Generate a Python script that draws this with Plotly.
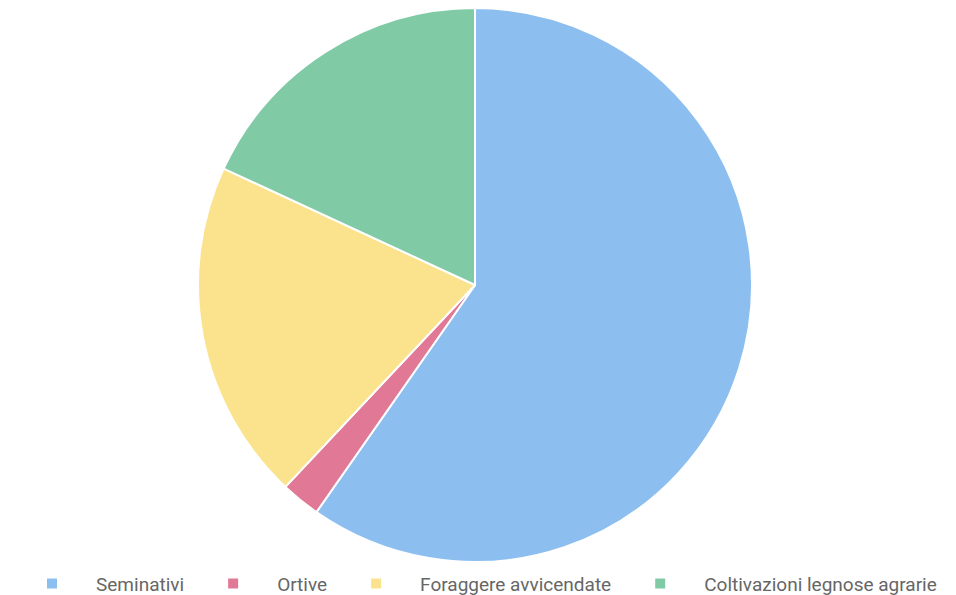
import plotly.graph_objects as go

labels = ["Seminativi", "Ortive", "Foraggere avvicendate", "Coltivazioni legnose agrarie"]
values = [59.7, 2.3, 19.9, 18.1]
colors = ["#8CBFEF", "#E07896", "#FBE38E", "#80CBA6"]

fig = go.Figure(go.Pie(
    labels=labels,
    values=values,
    sort=False,
    direction="clockwise",
    rotation=0,
    marker=dict(colors=colors, line=dict(color="white", width=2)),
    textinfo="none",
    hoverinfo="label+value",
))

fig.update_layout(
    width=956, height=595,
    margin=dict(l=0, r=22, t=0, b=36),
    paper_bgcolor="white",
    plot_bgcolor="white",
    showlegend=True,
    legend=dict(
        orientation="h",
        x=0.5, xanchor="center",
        y=-0.005, yanchor="top",
        font=dict(family="Roboto, Arial, sans-serif", size=19, color="#666666"),
        itemwidth=78,
        traceorder="normal",
    ),
)

fig.write_html("out.html")
